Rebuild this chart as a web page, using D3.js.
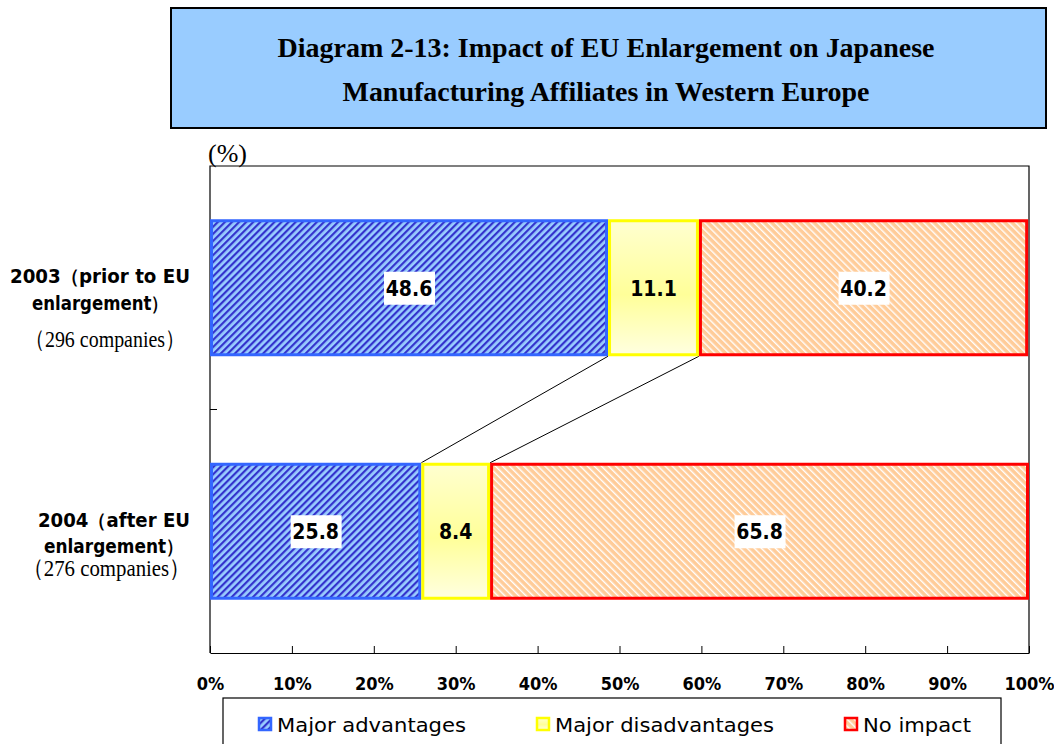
<!DOCTYPE html>
<html><head><meta charset="utf-8">
<script src="https://cdn.jsdelivr.net/npm/d3@7"></script>
<style>body{margin:0;background:#fff}</style>
</head><body>
<svg id="c" width="1054" height="744"></svg>
<script>
const titleLines = ["Diagram 2-13: Impact of EU Enlargement on Japanese", "Manufacturing Affiliates in Western Europe"];
const categories = ["2003", "2004"];
const catLabelBold = [["2003（prior to EU", "enlargement）"], ["2004（after EU", "enlargement）"]];
const catLabelSerif = ["（296 companies）", "（276  companies）"];
const seriesNames = ["Major advantages", "Major disadvantages", "No impact"];
const majorAdvantages = [48.6, 25.8];
const majorDisadvantages = [11.1, 8.4];
const noImpact = [40.2, 65.8];
const xTicks = [0,10,20,30,40,50,60,70,80,90,100];
const unitLabel = "(%)";

(function(){
const svg = d3.select("#c");
const defs = svg.append("defs");
const pb = defs.append("pattern").attr("id","hBlue").attr("patternUnits","userSpaceOnUse")
  .attr("width",5).attr("height",5).attr("patternTransform","rotate(45)");
pb.append("rect").attr("width",5).attr("height",5).attr("fill","#99CCFF");
pb.append("rect").attr("width",2.2).attr("height",5).attr("fill","#3333CC");
const pr = defs.append("pattern").attr("id","hRed").attr("patternUnits","userSpaceOnUse")
  .attr("width",5).attr("height",5).attr("patternTransform","rotate(-45)");
pr.append("rect").attr("width",5).attr("height",5).attr("fill","#FFCC99");
pr.append("rect").attr("width",1.4).attr("height",5).attr("fill","#FFFFFF");
const gy = defs.append("linearGradient").attr("id","gYel").attr("x1",0).attr("y1",0).attr("x2",0).attr("y2",1);
gy.append("stop").attr("offset","0%").attr("stop-color","#FFFFD0");
gy.append("stop").attr("offset","55%").attr("stop-color","#FFFF99");
gy.append("stop").attr("offset","100%").attr("stop-color","#FFFFE0");

const fills = ["url(#hBlue)","url(#gYel)","url(#hRed)"];
const strokes = ["#3366FF","#FFFF00","#FF0000"];

// title
svg.append("rect").attr("x",171).attr("y",8).attr("width",875).attr("height",120)
  .attr("fill","#99CCFF").attr("stroke","#000").attr("stroke-width",2);
const titleLen=[657,527];
svg.selectAll("text.title").data(titleLines).join("text")
  .attr("x",606).attr("y",(d,i)=>57+i*44).attr("text-anchor","middle")
  .attr("font-family","Liberation Serif").attr("font-weight","bold").attr("font-size",28)
  .attr("textLength",(d,i)=>titleLen[i]).attr("lengthAdjust","spacingAndGlyphs")
  .text(d=>d);

const pL=210,pR=1029,pT=166,pB=653;
const x = d3.scaleLinear().domain([0,100]).range([pL,pR]);
const y = d3.scaleBand().domain(categories).range([pT,pB]).padding(0);
const barH = 137;

svg.append("path").attr("d",`M${pL},${pB}V${pT}H${pR}V${pB}`)
  .attr("fill","none").attr("stroke","#000").attr("stroke-width",1.2);

const stackData = categories.map((c,i)=>{
  const vals=[majorAdvantages[i],majorDisadvantages[i],noImpact[i]];
  let acc=0;
  return vals.map((v,k)=>{const s={cat:c,k,v,x0:acc,x1:acc+v};acc+=v;return s;});
});
const barY = c => y(c)+(y.bandwidth()-barH)/2;

const lines=[];
for(const k of [0,1]){
  lines.push({x1:x(stackData[0][k].x1),y1:barY(categories[0])+barH,x2:x(stackData[1][k].x1),y2:barY(categories[1])});
}
svg.selectAll("line.conn").data(lines).join("line")
  .attr("x1",d=>d.x1).attr("y1",d=>d.y1).attr("x2",d=>d.x2).attr("y2",d=>d.y2)
  .attr("stroke","#000").attr("stroke-width",1);

const segs = stackData.flat();
svg.selectAll("rect.seg").data(segs).join("rect")
  .attr("x",d=>x(d.x0)+1.5).attr("y",d=>barY(d.cat)+1.5)
  .attr("width",d=>x(d.x1)-x(d.x0)-3).attr("height",barH-3)
  .attr("fill",d=>fills[d.k]).attr("stroke",d=>strokes[d.k]).attr("stroke-width",3);

const lg = svg.selectAll("g.val").data(segs).join("g")
  .attr("transform",d=>`translate(${x((d.x0+d.x1)/2)},${barY(d.cat)+barH/2})`);
lg.filter(d=>d.k!==1).append("rect").attr("x",-25).attr("y",-16).attr("width",51).attr("height",33).attr("fill","#fff");
lg.append("text").attr("text-anchor","middle").attr("dy","0.37em")
  .attr("font-family","DejaVu Sans Condensed, DejaVu Sans").attr("font-weight","bold").attr("font-size",21)
  .text(d=>d.v.toFixed(1));

const xAxis = d3.axisBottom(x).tickValues(xTicks).tickFormat(d=>d+"%").tickSizeInner(-7).tickSizeOuter(0).tickPadding(24);
const ax = svg.append("g").attr("transform",`translate(0,${pB})`).call(xAxis);
ax.select(".domain").attr("stroke","#000").attr("stroke-width",1.2);
ax.selectAll(".tick line").attr("stroke","#000");
ax.selectAll(".tick text").attr("font-family","DejaVu Sans Condensed, DejaVu Sans").attr("font-weight","bold")
  .attr("font-size",18).attr("fill","#000");

svg.append("line").attr("x1",pL).attr("x2",pL+7).attr("y1",y(categories[1])).attr("y2",y(categories[1])).attr("stroke","#000");

svg.append("text").attr("x",208).attr("y",162).attr("font-family","Liberation Serif").attr("font-size",26).text(unitLabel);

// category labels
const boldSpan=[[[10,190],[32,168]],[[38,190],[44,183]]];
const boldDy=[[-5,22],[-4,22]];
const serifSpan=[[25,185],[23,190]];
const serifDy=[59,45];
categories.forEach((c,i)=>{
  const yc = y(c)+y.bandwidth()/2;
  catLabelBold[i].forEach((t,j)=>{
    const s=boldSpan[i][j];
    svg.append("text").attr("x",s[0]).attr("y",yc+boldDy[i][j])
      .attr("font-family","DejaVu Sans").attr("font-weight","bold").attr("font-size",19)
      .attr("textLength",s[1]-s[0]).attr("lengthAdjust","spacingAndGlyphs").text(t);
  });
  const s=serifSpan[i];
  svg.append("text").attr("x",s[0]).attr("y",yc+serifDy[i])
    .attr("font-family","Liberation Serif").attr("font-size",24)
    .attr("textLength",s[1]-s[0]).attr("lengthAdjust","spacingAndGlyphs").text(catLabelSerif[i]);
});

// legend
svg.append("rect").attr("x",223).attr("y",698).attr("width",778).attr("height",60)
  .attr("fill","#fff").attr("stroke","#000").attr("stroke-width",1.2);
const legX=[258,536,844];
const legTextLen=[189,219,108];
const li = svg.selectAll("g.leg").data(seriesNames).join("g").attr("transform",(d,i)=>`translate(${legX[i]},717)`);
li.append("rect").attr("x",1).attr("y",1).attr("width",12).attr("height",12)
  .attr("fill",(d,i)=>fills[i]).attr("stroke",(d,i)=>strokes[i]).attr("stroke-width",2.5);
li.append("text").attr("x",19).attr("y",15).attr("font-family","DejaVu Sans Condensed, DejaVu Sans")
  .attr("font-size",20).attr("textLength",(d,i)=>legTextLen[i]).attr("lengthAdjust","spacingAndGlyphs")
  .text(d=>d);
})();
</script>
</body></html>
